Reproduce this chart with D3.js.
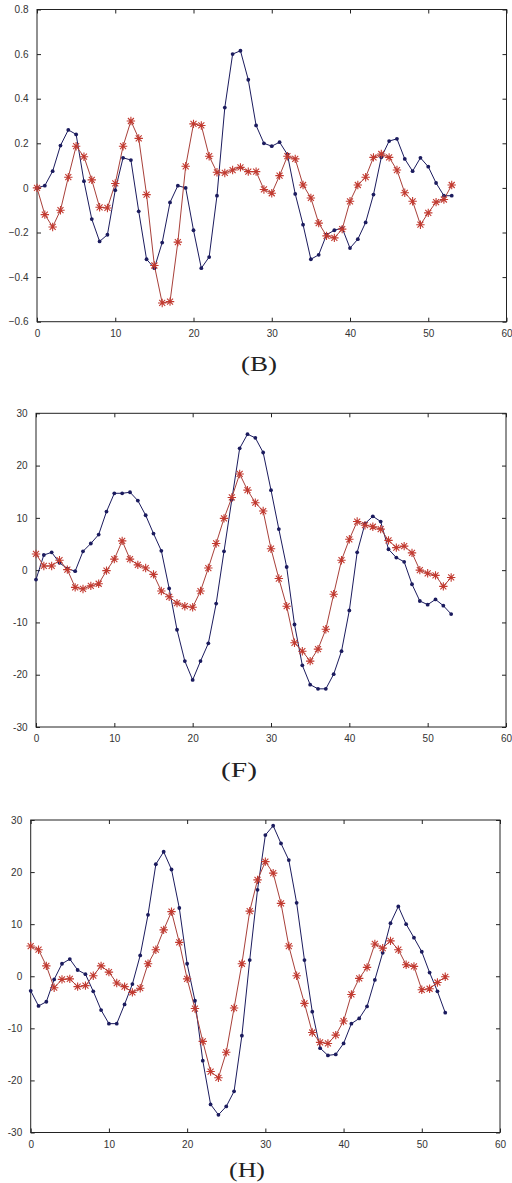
<!DOCTYPE html>
<html><head><meta charset="utf-8">
<script src="https://cdn.jsdelivr.net/npm/d3@7"></script>
<style>html,body{margin:0;padding:0;background:#fff;}svg{display:block;}</style>
</head><body>
<script>
const xIndex = d3.range(0, 54);

const bBlue = [0.00,0.01,0.075,0.19,0.26,0.24,0.03,-0.14,-0.24,-0.21,-0.01,0.135,0.125,-0.105,-0.32,-0.36,-0.245,-0.065,0.01,0.0,-0.19,-0.36,-0.31,-0.035,0.36,0.60,0.615,0.485,0.28,0.20,0.187,0.205,0.15,-0.027,-0.165,-0.32,-0.30,-0.21,-0.19,-0.18,-0.27,-0.23,-0.155,-0.03,0.137,0.21,0.22,0.13,0.075,0.135,0.095,0.022,-0.035,-0.035];
const bRed = [0.0,-0.12,-0.175,-0.10,0.048,0.187,0.14,0.036,-0.087,-0.09,0.02,0.187,0.30,0.222,-0.03,-0.348,-0.516,-0.51,-0.243,0.097,0.287,0.28,0.142,0.07,0.067,0.08,0.092,0.073,0.073,-0.007,-0.024,0.055,0.142,0.13,0.013,-0.045,-0.158,-0.215,-0.224,-0.185,-0.06,0.013,0.048,0.137,0.152,0.137,0.08,-0.022,-0.06,-0.165,-0.112,-0.064,-0.052,0.013];

const fBlue = [-1.8,2.9,3.4,1.4,0.3,-0.2,3.6,5.1,6.8,11.2,14.7,14.7,14.9,13.3,10.5,7.0,3.7,-3.5,-11.4,-17.4,-21.0,-17.4,-14.0,-6.4,3.6,13.5,23.3,26.0,25.3,22.5,15.3,7.85,0.6,-10.4,-18.2,-21.9,-22.7,-22.7,-19.9,-15.5,-7.7,3.4,8.9,10.3,9.3,4.0,2.4,1.6,-2.7,-5.9,-6.6,-5.6,-6.8,-8.4];
const fRed = [3.1,0.8,0.8,1.9,0.1,-3.3,-3.6,-3.0,-2.6,-0.1,2.1,5.6,2.1,1.0,0.4,-0.8,-4.0,-5.1,-6.3,-6.9,-7.1,-4.0,0.4,5.1,9.9,13.9,18.4,15.3,12.9,11.3,4.1,-1.6,-6.9,-13.9,-15.5,-17.4,-15.1,-11.3,-4.6,1.9,5.9,9.3,8.6,8.3,7.85,5.7,4.3,4.6,3.3,0.0,-0.6,-1.0,-3.1,-1.4];

const hBlue = [-2.8,-5.7,-4.9,-0.6,2.4,3.3,1.2,0.4,-2.9,-6.5,-9.1,-9.1,-5.4,-1.5,4.0,11.8,21.5,23.9,20.5,13.1,2.4,-4.7,-16.2,-24.6,-26.6,-25.0,-22.1,-11.4,3.1,16.6,27.1,28.9,25.5,22.3,14.1,3.1,-6.8,-13.8,-15.2,-15.0,-12.9,-9.1,-8.1,-5.8,-0.7,4.5,10.2,13.4,10.0,7.4,4.7,0.7,-2.9,-7.0];
const hRed = [5.8,5.1,2.0,-2.2,-0.6,-0.5,-2.0,-1.8,0.1,2.0,0.8,-1.3,-2.0,-3.1,-2.3,2.4,5.1,8.9,12.4,6.5,-0.5,-6.2,-12.5,-18.3,-19.5,-14.6,-6.1,2.4,12.5,18.5,22.0,19.8,14.0,5.8,0.1,-5.2,-10.8,-12.7,-12.9,-11.3,-8.6,-3.5,-0.4,1.7,6.2,5.4,6.8,5.1,2.2,1.9,-2.6,-2.4,-1.2,-0.1];

const xTicks = [0,10,20,30,40,50,60];
const bTicks = [-0.6,-0.4,-0.2,0,0.2,0.4,0.6,0.8];
const fhTicks = [-30,-20,-10,0,10,20,30];
const panelLabels = ["(B)","(F)","(H)"];

const W = 512, H = 1183;
const svg = d3.select("body").append("svg").attr("width", W).attr("height", H);

const panels = [
  {blue:bBlue, red:bRed, yDom:[-0.6,0.8], yTicks:bTicks, fmt:d=> d===0?"0":d3.format(".1f")(d),
   l:37, r:506.5, t:9.5, b:321.7, label:panelLabels[0], lx:259, ly:364},
  {blue:fBlue, red:fRed, yDom:[-30,30], yTicks:fhTicks, fmt:d=>String(d),
   l:36, r:506, t:413.3, b:727, label:panelLabels[1], lx:239, ly:770},
  {blue:hBlue, red:hRed, yDom:[-30,30], yTicks:fhTicks, fmt:d=>String(d),
   l:30.7, r:500, t:820, b:1132.5, label:panelLabels[2], lx:247, ly:1170}
];

const axisColor = "#222";
const blueC = "#1b1b5e";
const redC = "#c23a30";

panels.forEach(p => {
  const x = d3.scaleLinear().domain([0,60]).range([p.l, p.r]);
  const y = d3.scaleLinear().domain(p.yDom).range([p.b, p.t]);
  const g = svg.append("g");

  g.append("rect").attr("x", p.l).attr("y", p.t).attr("width", p.r-p.l).attr("height", p.b-p.t)
    .attr("fill","none").attr("stroke",axisColor).attr("stroke-width",1);

  const ax = g.append("g").attr("transform",`translate(0,${p.b})`)
    .call(d3.axisBottom(x).tickValues(xTicks).tickSize(-4).tickPadding(8).tickFormat(d=>String(d)));
  const axTop = g.append("g").attr("transform",`translate(0,${p.t})`)
    .call(d3.axisTop(x).tickValues(xTicks).tickSize(-4).tickFormat(""));
  const ay = g.append("g").attr("transform",`translate(${p.l},0)`)
    .call(d3.axisLeft(y).tickValues(p.yTicks).tickSize(-4).tickPadding(8.5).tickFormat(p.fmt));
  const ayR = g.append("g").attr("transform",`translate(${p.r},0)`)
    .call(d3.axisRight(y).tickValues(p.yTicks).tickSize(-4).tickFormat(""));
  [ax, axTop, ay, ayR].forEach(a => {
    a.select(".domain").remove();
    a.selectAll(".tick line").attr("stroke",axisColor).attr("stroke-width",1);
    a.selectAll(".tick text").attr("font-family","Liberation Sans, Arial, sans-serif")
      .attr("font-size","10px").attr("fill","#333");
  });

  const line = d3.line().x((d,i)=>x(xIndex[i])).y(d=>y(d));
  g.append("path").datum(p.blue).attr("d", line).attr("fill","none")
    .attr("stroke", blueC).attr("stroke-width",1);
  g.append("path").datum(p.red).attr("d", line).attr("fill","none")
    .attr("stroke", "#a8403a").attr("stroke-width",1);

  g.append("g").selectAll("circle").data(p.blue).join("circle")
    .attr("cx",(d,i)=>x(xIndex[i])).attr("cy",d=>y(d)).attr("r",1.9).attr("fill",blueC);

  const s = 4.2, sd = 3.0;
  const star = `M${-s},0L${s},0M0,${-s}L0,${s}M${-sd},${-sd}L${sd},${sd}M${-sd},${sd}L${sd},${-sd}`;
  g.append("g").selectAll("path").data(p.red).join("path")
    .attr("transform",(d,i)=>`translate(${x(xIndex[i])},${y(d)})`)
    .attr("d", star).attr("fill","none").attr("stroke",redC).attr("stroke-width",1.1);

  svg.append("text").attr("x", p.lx).attr("y", p.ly).attr("text-anchor","middle")
    .attr("dominant-baseline","central")
    .attr("font-family","Liberation Serif, Times New Roman, serif").attr("font-size","21px")
    .attr("textLength", 36).attr("lengthAdjust","spacingAndGlyphs")
    .attr("fill","#222").text(p.label);
});
</script>
</body></html>
